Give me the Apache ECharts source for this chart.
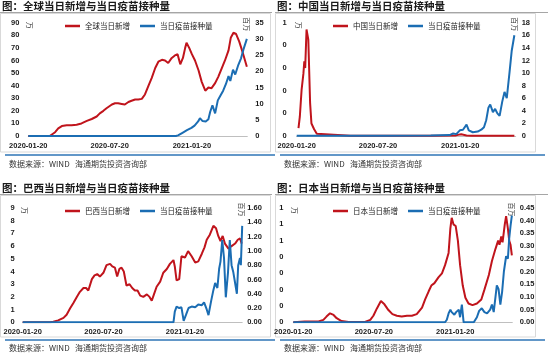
<!DOCTYPE html>
<html><head><meta charset="utf-8">
<script src="https://cdn.jsdelivr.net/npm/echarts@6/dist/echarts.min.js"></script>
<style>html,body{margin:0;padding:0;background:#fff}#c{width:550px;height:355px}</style>
</head><body><div id="c"></div>
<script>
// ---- tick labels (x axis: days since 2020-01-20) ----
const xTickDays = [0, 182, 366];
const xTickLabels = ['2020-01-20', '2020-07-20', '2021-01-20'];

const panelTitles = ['图：全球当日新增与当日疫苗接种量', '图：中国当日新增与当日疫苗接种量', '图：巴西当日新增与当日疫苗接种量', '图：日本当日新增与当日疫苗接种量'];
const caseNames = ['全球当日新增', '中国当日新增', '巴西当日新增', '日本当日新增'];
const vaxName = '当日疫苗接种量';
const sourceText = '数据来源：WIND   海通期货投资咨询部';
const leftUnit = '万';
const rightUnit = '百万';

// ---- Global (万 / 百万) ----
const globalCaseDays = [0, 48, 52, 60, 67, 75, 86, 97, 108, 119, 131, 142, 153, 160, 168, 175, 187, 194, 201, 209, 216, 224, 231, 239, 246, 254, 261, 269, 276, 284, 291, 299, 306, 313, 321, 328, 334, 340, 346, 351, 354, 360, 366, 373, 381, 388, 396, 403, 410, 418, 425, 433, 440, 448, 453, 459, 465, 472, 480, 489];
const globalCases = [0, 0, 0.5, 3, 6, 7.9, 8.5, 8.6, 9, 10, 12, 13.5, 15.5, 18, 20, 22, 25, 26, 26, 25.5, 25, 27, 28, 29, 29, 29.5, 33, 40, 46, 54, 59, 60.5, 60, 58, 62, 64, 65, 57, 62, 70, 74, 70, 65, 60, 52, 43, 36, 38.5, 38, 42, 47, 54, 60, 68, 78, 82, 81, 75, 66, 55];
const globalVaxDays = [0, 330, 335, 345, 355, 365, 372, 380, 384, 390, 397, 403, 407, 412, 418, 424, 430, 436, 442, 448, 452, 458, 463, 470, 476, 482, 489];
const globalVax = [0, 0, 0.2, 1, 1.8, 2.5, 3.2, 4.5, 5.5, 4.6, 4.5, 5.2, 7.5, 9.5, 7, 11, 12.5, 14, 16, 18.5, 17, 20.5, 19, 22, 24, 27, 30];

// ---- China ----
const chinaCaseDays = [4, 7, 11, 15, 17, 19, 22, 26, 30, 33, 39, 45, 48, 120, 200, 300, 355, 361, 368, 380, 391, 420, 487];
const chinaCases = [0.07, 0.17, 0.41, 0.55, 0.66, 0.6, 0.94, 0.85, 0.29, 0.11, 0.06, 0.02, 0.003, 0.003, 0.002, 0.002, 0.004, 0.01, 0.015, 0.005, 0.002, 0.002, 0.002];
const chinaVaxDays = [0, 100, 200, 300, 342, 350, 357, 365, 372, 380, 385, 394, 405, 413, 419, 424, 429, 433, 439, 444, 449, 454, 460, 465, 470, 476, 481, 487];
const chinaVax = [0.05, 0.05, 0.05, 0.08, 0.15, 0.4, 0.3, 0.9, 1.0, 1.8, 0.9, 0.6, 0.7, 1.0, 1.4, 2.5, 4.5, 5.0, 3.8, 4.3, 3.6, 3.2, 5.5, 7.0, 6.0, 10, 13.5, 16];

// ---- Brazil ----
const brazilCaseDays = [0, 62, 69, 80, 92, 99, 107, 114, 122, 129, 137, 143, 148, 156, 162, 168, 174, 182, 189, 197, 202, 208, 213, 218, 223, 228, 234, 241, 247, 253, 259, 265, 272, 280, 286, 291, 296, 302, 310, 317, 325, 332, 340, 343, 347, 353, 358, 366, 373, 381, 389, 396, 404, 410, 415, 422, 430, 436, 441, 446, 451, 456, 464, 471, 479, 485, 490, 494];
const brazilCases = [0, 0, 0.05, 0.15, 0.35, 0.6, 1.1, 1.5, 2.0, 2.4, 2.7, 2.7, 2.5, 3.4, 3.7, 3.8, 3.6, 3.9, 4.5, 4.6, 4.4, 4.3, 3.6, 4.2, 4.3, 4.0, 2.9, 3.0, 2.7, 2.5, 2.5, 2.1, 2.0, 2.2, 2.0, 1.7, 2.2, 2.8, 3.2, 3.9, 4.2, 4.6, 4.9, 4.4, 3.3, 3.4, 5.2, 5.1, 5.6, 5.2, 4.7, 4.8, 5.4, 5.9, 6.5, 6.9, 7.6, 7.4, 6.8, 6.4, 6.8, 6.2, 5.8, 6.0, 6.2, 6.5, 6.6, 6.2];
const brazilVaxDays = [0, 340, 343, 347, 353, 358, 363, 368, 374, 381, 389, 396, 404, 409, 415, 419, 425, 430, 434, 439, 443, 446, 450, 454, 458, 463, 467, 471, 475, 479, 483, 486, 490, 492, 495];
const brazilVax = [0, 0, 0.15, 0.22, 0.2, 0.21, 0.02, 0.1, 0.2, 0.22, 0.21, 0.25, 0.24, 0.28, 0.18, 0.1, 0.3, 0.45, 0.55, 0.48, 0.75, 0.85, 1.15, 0.9, 0.35, 0.7, 1.15, 0.8, 0.7, 0.55, 0.4, 0.8, 0.9, 0.8, 1.35];

// ---- Japan ----
const japanCaseDays = [0, 26, 57, 68, 75, 83, 91, 98, 109, 125, 162, 174, 181, 189, 198, 206, 215, 224, 234, 245, 257, 268, 279, 291, 298, 306, 312, 319, 328, 336, 343, 347, 351, 355, 358, 362, 367, 372, 377, 383, 389, 396, 405, 415, 425, 432, 442, 449, 457, 463, 466, 470, 473, 478, 481, 485, 488, 491, 494];
const japanCases = [0, 0.01, 0.01, 0.03, 0.07, 0.11, 0.09, 0.05, 0.015, 0.005, 0.005, 0.03, 0.08, 0.17, 0.26, 0.22, 0.15, 0.1, 0.08, 0.07, 0.08, 0.08, 0.1, 0.18, 0.28, 0.38, 0.45, 0.48, 0.55, 0.6, 0.7, 0.72, 0.85, 1.15, 1.28, 1.2, 1.18, 1.0, 0.7, 0.45, 0.3, 0.23, 0.21, 0.23, 0.28, 0.4, 0.58, 0.75, 0.9, 1.0, 0.95, 1.05, 0.98, 1.2, 1.3, 1.15, 1.0, 0.95, 0.82];
const japanVaxDays = [0, 343, 347, 351, 355, 358, 364, 368, 374, 377, 381, 385, 408, 415, 420, 426, 432, 438, 445, 449, 453, 457, 460, 464, 468, 472, 476, 481, 485, 488, 491, 494];
const japanVax = [0, 0, 0.01, 0.035, 0.05, 0.04, 0.03, 0.04, 0.05, 0.02, 0.07, 0, 0, 0.02, 0.045, 0.055, 0.04, 0.035, 0.05, 0.07, 0.04, 0.1, 0.145, 0.13, 0.07, 0.12, 0.2, 0.26, 0.25, 0.33, 0.38, 0.42];

// ---- axis ranges ----
const leftMax = [90, 1, 9, 1.4], leftStep = [10, 0.2, 1, 0.2];
const rightMax = [35, 18, 1.6, 0.45], rightStep = [5, 2, 0.2, 0.05];
const rightDecimals = [0, 0, 2, 2];

const zip = (d, v) => d.map((x, i) => [x, v[i]]);
const caseData = [zip(globalCaseDays, globalCases), zip(chinaCaseDays, chinaCases), zip(brazilCaseDays, brazilCases), zip(japanCaseDays, japanCases)];
const vaxData = [zip(globalVaxDays, globalVax), zip(chinaVaxDays, chinaVax), zip(brazilVaxDays, brazilVax), zip(japanVaxDays, japanVax)];

const RED = '#c0141c', BLUE = '#1b6db3';
const LBL = {fontSize: 7.5, color: '#1a1a1a', fontFamily: 'Liberation Sans, Arial', fontWeight: 'bold'};

const grids = [
  {left: 28.3, top: 22.7, width: 219, height: 113.3},
  {left: 296.7, top: 22.7, width: 219, height: 113.3},
  {left: 22.7, top: 208, width: 219.5, height: 114.3},
  {left: 293.3, top: 208, width: 219, height: 114.3}
];
const xMax = [490, 490, 495, 495];
const leftMargin = [9, 10, 8, 10];
const rightMargin = [8, 6, 5, 7.5];

const xAxis = [], yAxis = [], series = [], legend = [];
for (let i = 0; i < 4; i++) {
  xAxis.push({
    type: 'value', gridIndex: i, min: 0, max: xMax[i],
    axisLine: {show: true, lineStyle: {color: '#bfbfbf', width: 1}},
    axisTick: {show: false}, splitLine: {show: false},
    axisLabel: Object.assign({}, LBL, {margin: 6, customValues: xTickDays,
      formatter: v => { const k = xTickDays.indexOf(v); return k >= 0 ? xTickLabels[k] : ''; }})
  });
  yAxis.push({
    type: 'value', gridIndex: i, position: 'left', min: 0, max: leftMax[i], interval: leftStep[i],
    axisLine: {show: false}, axisTick: {show: false}, splitLine: {show: false},
    axisLabel: Object.assign({}, LBL, {margin: leftMargin[i], formatter: v => String(Math.floor(v + 1e-9))})
  });
  yAxis.push({
    type: 'value', gridIndex: i, position: 'right', min: 0, max: rightMax[i], interval: rightStep[i],
    axisLine: {show: false}, axisTick: {show: false}, splitLine: {show: false},
    axisLabel: Object.assign({}, LBL, {margin: rightMargin[i], formatter: v => v.toFixed(rightDecimals[i])})
  });
  series.push({
    type: 'line', name: caseNames[i], xAxisIndex: i, yAxisIndex: 2 * i, data: caseData[i],
    showSymbol: false, symbol: 'none', lineStyle: {color: RED, width: 2}, itemStyle: {color: RED}, z: 3
  });
  series.push({
    type: 'line', name: vaxName, xAxisIndex: i, yAxisIndex: 2 * i + 1, data: vaxData[i],
    showSymbol: false, symbol: 'none', lineStyle: {color: BLUE, width: 2}, itemStyle: {color: BLUE}, z: 4
  });
  legend.push({
    data: [caseNames[i], vaxName],
    left: i % 2 === 0 ? 65 : 333, top: i < 2 ? 21 : 206,
    icon: 'rect', itemWidth: 15, itemHeight: 2.5, itemGap: 10, padding: 0,
    textStyle: {fontSize: 7.5, color: '#1a1a1a', fontFamily: 'Noto Sans CJK SC', lineHeight: 10}
  });
}

const graphic = [];
const txt = (x, y, text, font, fill, align, rot) => graphic.push({
  type: 'text', x: x, y: y, rotation: rot || 0, silent: true,
  style: {text: text, font: font, fill: fill, textAlign: align || 'left', textVerticalAlign: 'middle', align: align || 'left', verticalAlign: 'middle'}
});
const line = (x1, y1, x2, y2, color, w) => graphic.push({
  type: 'line', silent: true, shape: {x1, y1, x2, y2}, style: {stroke: color, lineWidth: w}
});
const rect = (x, y, w, h) => graphic.push({
  type: 'rect', silent: true, shape: {x, y, width: w, height: h}, style: {fill: 'none', stroke: '#d9d9d9', lineWidth: 1}
});

const px = [0, 275, 0, 275];
const titleY = [6, 6, 188, 188];
const ulY = [12.5, 12.5, 194.5, 194.5];
const sepY = [155, 155, 340, 340];
const srcY = [164, 164, 348, 348];
for (let i = 0; i < 4; i++) {
  const x0 = px[i];
  rect(x0 + 0.5, ulY[i] + 1, i % 2 ? 260 : 270, sepY[i] - ulY[i] - 4);
  txt(x0 + 2, titleY[i], panelTitles[i], 'bold 10.5px "Noto Sans CJK SC"', '#1a1a1a');
  line(x0, ulY[i], x0 + (i % 2 ? 273 : 272), ulY[i], '#a6a6a6', 1);
  line(x0 + 5, sepY[i], x0 + (i % 2 ? 270 : 275), sepY[i], '#2e75b6', 1.6);
  txt(x0 + 9, srcY[i], sourceText, '8px "Noto Sans CJK SC"', '#333');
  const g = grids[i];
  txt(g.left + 1.5, g.top + 2.5, leftUnit, '7px "Noto Sans CJK SC"', '#333', 'center', -Math.PI / 2);
  txt(g.left + g.width - 1, g.top + 1.5, rightUnit, '7px "Noto Sans CJK SC"', '#333', 'center', -Math.PI / 2);
}

const chart = echarts.init(document.getElementById('c'), null, {renderer: 'canvas'});
chart.setOption({
  backgroundColor: '#fff',
  animation: false,
  grid: grids,
  xAxis: xAxis,
  yAxis: yAxis,
  legend: legend,
  series: series,
  graphic: graphic
});
</script></body></html>
